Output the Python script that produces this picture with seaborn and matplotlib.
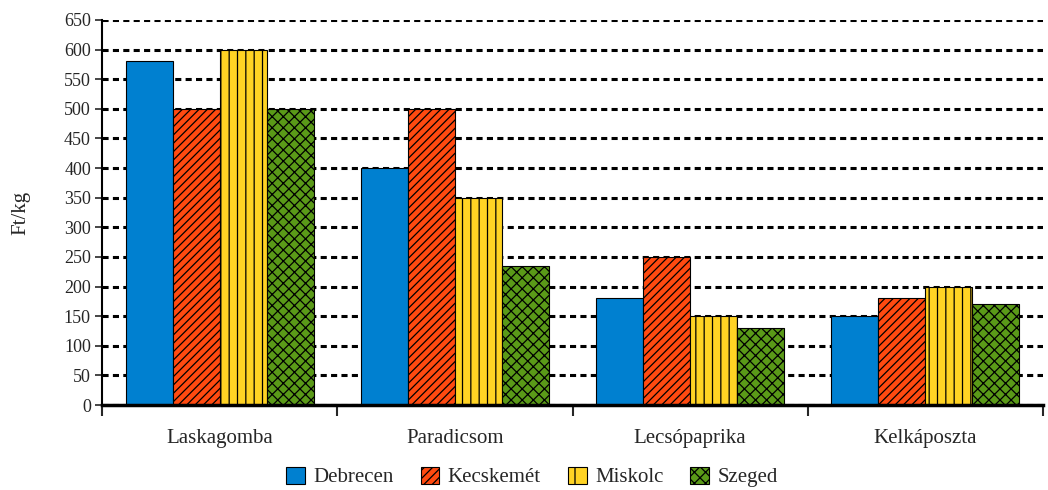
import matplotlib
matplotlib.use("Agg")
import matplotlib.pyplot as plt
import seaborn as sns
import pandas as pd
import numpy as np

categories = ["Laskagomba", "Paradicsom", "Lecsópaprika", "Kelkáposzta"]
cities = ["Debrecen", "Kecskemét", "Miskolc", "Szeged"]
debrecen = [580, 400, 180, 150]
kecskemet = [500, 500, 250, 180]
miskolc = [600, 350, 150, 200]
szeged = [500, 235, 130, 170]
yticks = list(range(0, 651, 50))

colors = ["#0080D0", "#FF4A10", "#FFD324", "#5A9A18"]
hatches = ["", "////", "||", "xxx"]
hatchcolors = ["black", "black", "#404040", "#7A0000"]

rows = []
for city, vals in zip(cities, [debrecen, kecskemet, miskolc, szeged]):
    for c, v in zip(categories, vals):
        rows.append({"cat": c, "city": city, "val": v})
df = pd.DataFrame(rows)

sns.set_style("white")
plt.rcParams["font.family"] = ["Liberation Serif", "DejaVu Serif"]
plt.rcParams["hatch.linewidth"] = 0.9

fig = plt.figure(figsize=(10.48, 4.9), dpi=100)
ax = fig.add_axes([102/1048, 1 - 405/490, (1043-102)/1048, (405-20)/490])

sns.barplot(data=df, x="cat", y="val", hue="city", order=categories,
            hue_order=cities, palette=colors, width=0.8, ax=ax,
            edgecolor="black", linewidth=0.8, legend=True, saturation=1)

for i, cont in enumerate(ax.containers):
    for p in cont:
        p.set_hatch(hatches[i])
        if hasattr(p, "set_hatchcolor"):
            p.set_hatchcolor(hatchcolors[i])

# legend
handles, labels = ax.get_legend_handles_labels()
for i, h in enumerate(handles):
    h.set_hatch(hatches[i].replace("||", "|"))
    h.set_edgecolor("black")
    if hasattr(h, "set_hatchcolor"):
        h.set_hatchcolor(hatchcolors[i])
ax.legend(handles, labels, loc="center", bbox_to_anchor=(0.457, -0.187),
          ncol=4, frameon=False,
          prop={"family": ["Liberation Serif", "DejaVu Serif"], "size": 15},
          handlelength=0.9, handleheight=0.9,
          columnspacing=1.3, handletextpad=0.4)

ax.set_ylim(0, 650)
ax.set_xlim(-0.5, len(categories) - 0.5)
ax.set_yticks(yticks)
ax.set_yticklabels([str(t) for t in yticks], fontsize=13)
ax.tick_params(axis="y", which="major", direction="out", length=5, width=1.2, left=True, pad=3)
ax.set_xticks(range(len(categories)))
ax.set_xticklabels(categories, fontsize=15)
ax.tick_params(axis="x", which="major", length=0, pad=17)
ax.set_xticks(np.arange(-0.5, len(categories), 1.0), minor=True)
ax.tick_params(axis="x", which="minor", direction="out", length=8, width=1.5, bottom=True)

ax.set_xlabel("")
ax.set_ylabel("Ft/kg", fontsize=15, labelpad=24)

ax.yaxis.grid(True, color="black", linestyle=(0, (2, 1.4)), linewidth=2.2)
ax.set_axisbelow(True)

for s in ["top", "right"]:
    ax.spines[s].set_visible(False)
ax.spines["left"].set_linewidth(1.5)
ax.spines["bottom"].set_linewidth(2.5)
ax.spines["left"].set_color("black")
ax.spines["bottom"].set_color("black")

fig.savefig("out.png", dpi=100)
